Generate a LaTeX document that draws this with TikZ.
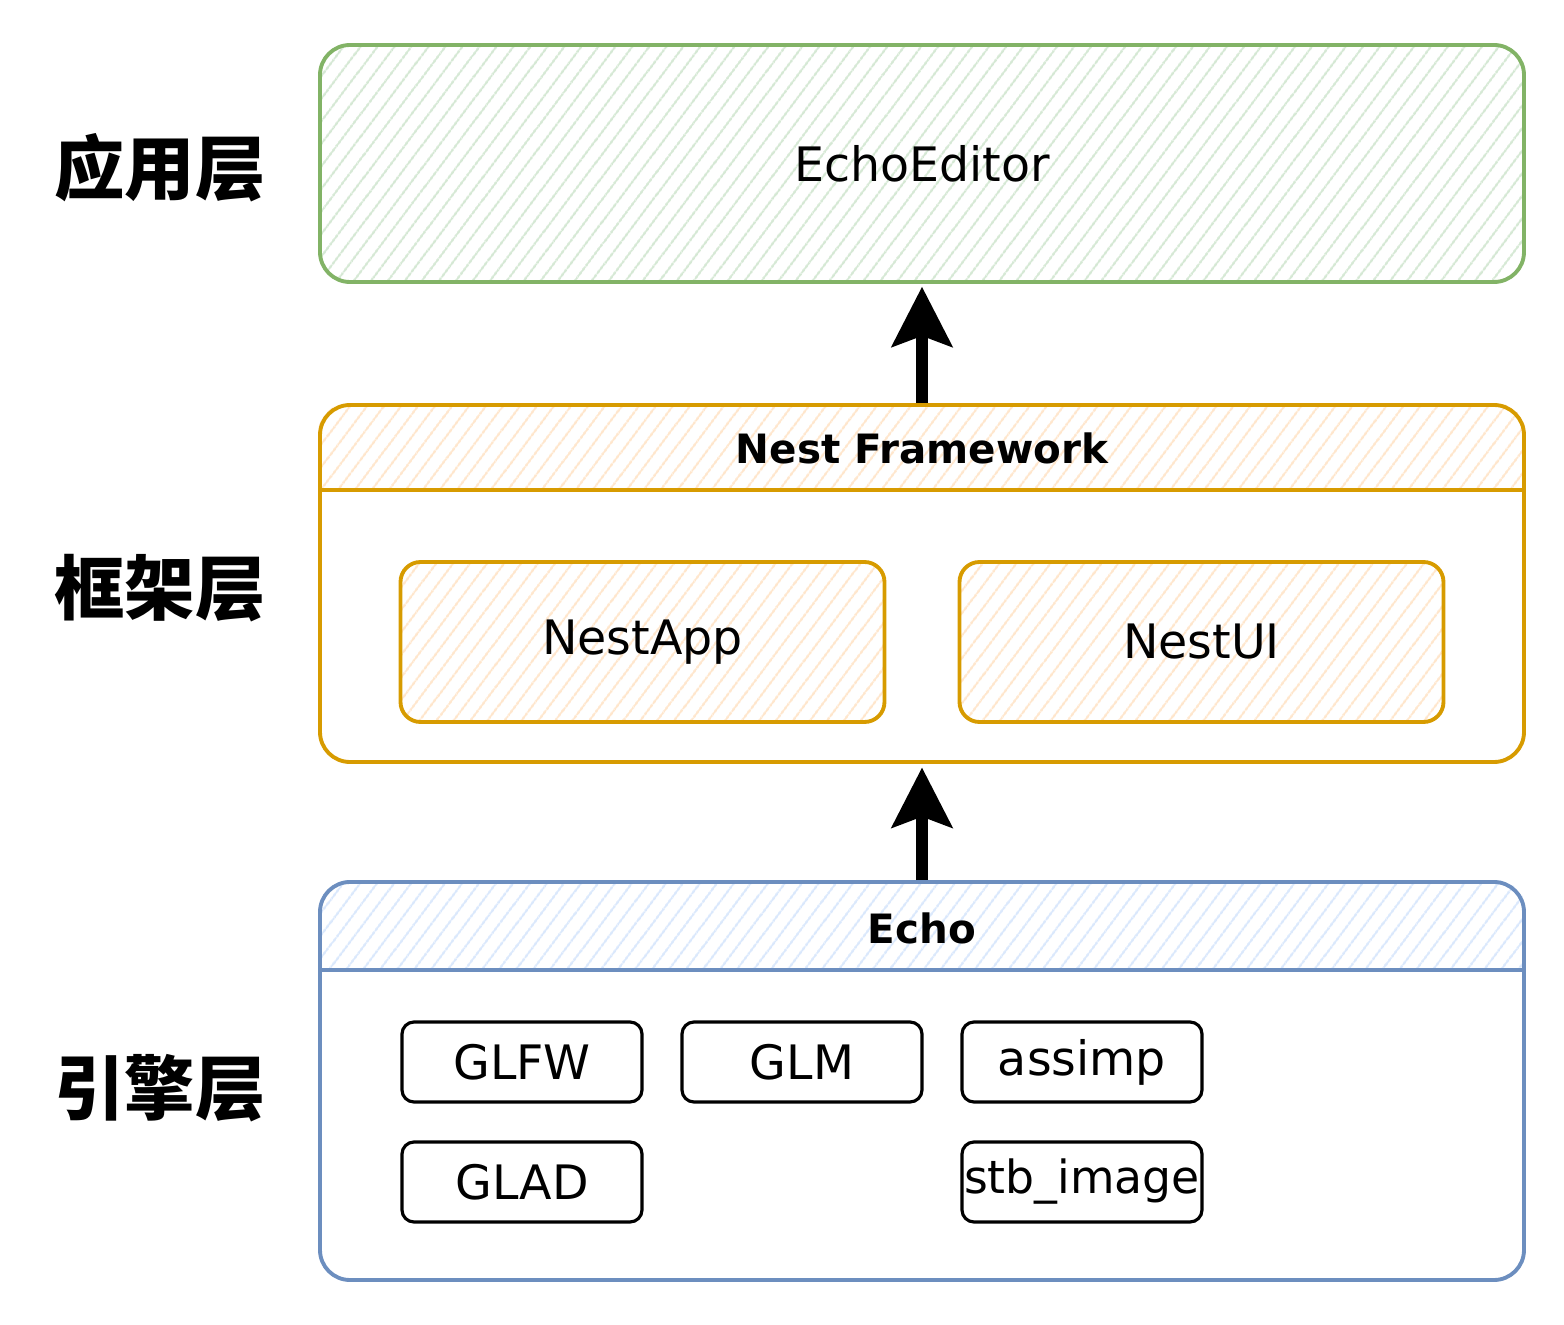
\documentclass[tikz,border=0pt]{standalone}
\usepackage{fontspec}
\setmainfont{DejaVu Sans}
\newfontfamily\cjk{Noto Sans CJK SC}
\usetikzlibrary{arrows.meta,patterns.meta,backgrounds}
\definecolor{appgreen}{HTML}{82B366}
\definecolor{appfill}{HTML}{D5E8D4}
\definecolor{fworange}{HTML}{D79B00}
\definecolor{fwfill}{HTML}{FFE6CC}
\definecolor{engblue}{HTML}{6C8EBF}
\definecolor{engfill}{HTML}{DAE8FC}
\begin{document}
\begin{tikzpicture}[
    layer/.style={draw, line width=1.1pt, rounded corners=0.3cm, inner sep=0pt, minimum width=12.04cm},
    hatch/.style={pattern={Lines[angle=53,distance=4pt,line width=0.65pt]}, pattern color=#1},
    part/.style={draw, line width=1.1pt, rounded corners=0.2cm, inner sep=0pt, minimum width=4.84cm, minimum height=1.6cm},
    lib/.style={draw, line width=0.9pt, rounded corners=0.12cm, minimum width=2.4cm, minimum height=0.8cm, inner sep=0pt},
    label/.style={font=\fontsize{13.5}{16}\selectfont},
    title/.style={font=\bfseries\fontsize{11.5}{14}\selectfont},
    level/.style={font=\cjk\bfseries\fontsize{20}{24}\selectfont},
    up/.style={-{Stealth[width=17pt,length=17pt,inset=3pt]}, line width=3.5pt}
]
    \useasboundingbox (0,0) rectangle (15.64,13.24);

    % Draw layer names
    \node[level] (applevel) at (1.6, 11.56) {应用层};
    \node[level] (fwlevel) at (1.6, 7.36) {框架层};
    \node[level] (englevel) at (1.6, 2.36) {引擎层};

    % Draw application layer
    \node[layer, label, draw=appgreen, hatch=appfill, minimum height=2.37cm] (editor) at (9.22, 11.605) {EchoEditor};

    % Draw framework layer
    \node[layer, draw=fworange, minimum height=3.57cm] (fw) at (9.22, 7.405) {};
    \begin{scope}[on background layer]
        \fill[hatch=fwfill] ([yshift=-0.87cm]fw.north west) {[rounded corners=0.3cm] -- (fw.north west) -- (fw.north east)} -- ([yshift=-0.87cm]fw.north east) -- cycle;
    \end{scope}
    \draw[fworange, line width=1.1pt] ([yshift=-0.87cm]fw.north west) -- ([yshift=-0.87cm]fw.north east);
    \node[title] (fwtitle) at ([yshift=-0.45cm]fw.north) {Nest Framework};
    \node[part, label, draw=fworange, hatch=fwfill] (app) at (6.425, 6.82) {NestApp};
    \node[part, label, draw=fworange, hatch=fwfill] (ui) at (12.015, 6.82) {NestUI};

    % Draw engine layer
    \node[layer, draw=engblue, minimum height=3.98cm] (eng) at (9.22, 2.43) {};
    \begin{scope}[on background layer]
        \fill[hatch=engfill] ([yshift=-0.9cm]eng.north west) {[rounded corners=0.3cm] -- (eng.north west) -- (eng.north east)} -- ([yshift=-0.9cm]eng.north east) -- cycle;
    \end{scope}
    \draw[engblue, line width=1.1pt] ([yshift=-0.9cm]eng.north west) -- ([yshift=-0.9cm]eng.north east);
    \node[title] (engtitle) at ([yshift=-0.48cm]eng.north) {Echo};

    % Draw libraries
    \node[lib, label] (glfw) at (5.22, 2.62) {GLFW};
    \node[lib, label] (glm) at (8.02, 2.62) {GLM};
    \node[lib, label] (assimp) at (10.82, 2.62) {assimp};
    \node[lib, label] (glad) at (5.22, 1.42) {GLAD};
    \node[lib, font=\fontsize{13}{15}\selectfont] (stb) at (10.82, 1.42) {stb\_image};

    % Draw dependencies between layers
    \draw[up, shorten >=1pt] (fw.north) -- (editor.south);
    \draw[up, shorten >=1pt] (eng.north) -- (fw.south);
\end{tikzpicture}
\end{document}
